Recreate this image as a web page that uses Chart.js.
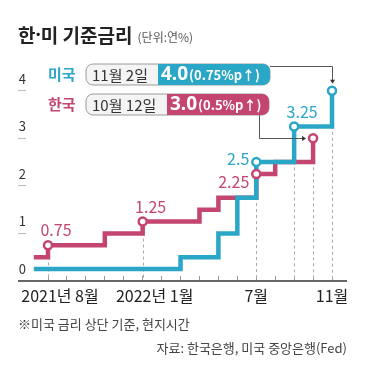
<!DOCTYPE html>
<html>
<head>
<meta charset="utf-8">
<script src="https://cdn.jsdelivr.net/npm/chart.js@4.4.1/dist/chart.umd.min.js"></script>
<style>
  html, body { margin: 0; padding: 0; background: #fff; }
  canvas { display: block; }
</style>
</head>
<body>
<canvas id="rates" width="375" height="381"></canvas>
<script>
// months counted from 2021-08 (0) to 2022-11 (15)
const monthTicks = [0, 1, 2, 3, 4, 5, 6, 7, 8, 9, 10, 11, 12, 13, 14, 15];
const labelMonths = [0, 5, 11, 15];
const labelTexts = ['\u2002\u2002\u20022021년 8월', '\u2002\u2002\u20022022년 1월', '7월', '11월'];
const yTicks = [0, 1, 2, 3, 4];

const korMonths = [-0.75, 0, 3, 5, 8, 9, 11, 12, 14];
const korRates = [0.5, 0.75, 1.0, 1.25, 1.5, 1.75, 2.25, 2.5, 3.0];
const usMonths = [-0.75, 7, 9, 10, 11, 13, 15];
const usRates = [0.25, 0.5, 1.0, 1.75, 2.5, 3.25, 4.0];

// which steps get a circle / a number
const korMarked = [1, 3, 6, 8];
const korLabeled = [1, 3, 6];
const usMarked = [4, 5, 6];
const usLabeled = [4, 5];

const BLUE = '#2aa6c6';
const RED = '#c4456f';
const FONT = "'Noto Sans CJK KR', 'Noto Sans', sans-serif";
const LATIN = "'Noto Sans', 'Noto Sans CJK KR', sans-serif";

const toPoints = (xs, ys) => xs.map((x, i) => ({ x: x, y: ys[i] }));
const korLine = toPoints(korMonths, korRates);
const usLine = toPoints(usMonths, usRates);
const korMarks = korMarked.map(i => korLine[i]);
const usMarks = usMarked.map(i => usLine[i]);

function roundBox(ctx, x, y, w, h, r, fill, stroke) {
  ctx.beginPath();
  ctx.roundRect(x, y, w, h, r);
  if (fill) { ctx.fillStyle = fill; ctx.fill(); }
  if (stroke) { ctx.strokeStyle = stroke; ctx.lineWidth = 1; ctx.stroke(); }
}

function callout(ctx, o) {
  ctx.textBaseline = 'middle';
  ctx.textAlign = 'left';
  ctx.font = 'bold 15px ' + FONT;
  ctx.fillStyle = o.color;
  ctx.fillText(o.name, 48, o.y + 10.5);
  roundBox(ctx, 86, o.y, o.w, 21, 7, '#f4f4f4', '#9a9a9a');
  roundBox(ctx, o.split, o.y, 86 + o.w - o.split, 21, [0, 7, 7, 0], o.color, null);
  ctx.font = '15px ' + FONT;
  ctx.fillStyle = '#333';
  ctx.fillText(o.date, 92, o.y + 11);
  ctx.fillStyle = '#fff';
  ctx.font = 'bold 19px ' + LATIN;
  let x = o.split + 3;
  ctx.fillText(o.rate, x, o.y + 11);
  x += ctx.measureText(o.rate).width + 1;
  ctx.font = 'bold 13px ' + FONT;
  ctx.fillText(o.change, x, o.y + 11.5);
}

function arrowHead(ctx, x, y, dir) {
  ctx.beginPath();
  if (dir === 'down') {
    ctx.moveTo(x - 2.5, y - 4); ctx.lineTo(x + 2.5, y - 4); ctx.lineTo(x, y);
  } else {
    ctx.moveTo(x - 4, y - 2.5); ctx.lineTo(x - 4, y + 2.5); ctx.lineTo(x, y);
  }
  ctx.closePath();
  ctx.fillStyle = '#333';
  ctx.fill();
}

const noPad = axis => {
  axis.paddingLeft = 0;
  axis.paddingRight = 0;
  axis.paddingTop = 0;
  axis.paddingBottom = 0;
};

const decor = {
  id: 'decor',
  beforeDatasetsDraw(chart) {
    const ctx = chart.ctx;
    const area = chart.chartArea;
    ctx.save();
    // axis line
    ctx.strokeStyle = '#666';
    ctx.lineWidth = 2;
    ctx.beginPath();
    ctx.moveTo(18, area.bottom);
    ctx.lineTo(area.right, area.bottom);
    ctx.stroke();
    // dashed guides under the marked steps
    ctx.strokeStyle = '#aaa';
    ctx.lineWidth = 1;
    ctx.setLineDash([3, 3]);
    [0, 1].forEach(d => {
      chart.getDatasetMeta(d).data.forEach(p => {
        ctx.beginPath();
        ctx.moveTo(Math.round(p.x) + 0.5, p.y + 5);
        ctx.lineTo(Math.round(p.x) + 0.5, area.bottom - 1);
        ctx.stroke();
      });
    });
    ctx.restore();
  },
  afterDatasetsDraw(chart) {
    const ctx = chart.ctx;
    ctx.save();
    // value labels
    ctx.font = '16px ' + FONT;
    ctx.textBaseline = 'middle';
    const usPts = chart.getDatasetMeta(0).data;
    const korPts = chart.getDatasetMeta(1).data;
    const place = (p, v, color, where) => {
      ctx.fillStyle = color;
      if (where === 'above') {
        ctx.textAlign = 'center';
        ctx.fillText(String(v), p.x + 8, p.y - 15);
      } else if (where === 'leftLow') {
        ctx.textAlign = 'right';
        ctx.fillText(String(v), p.x - 7, p.y + 8);
      } else {
        ctx.textAlign = 'right';
        ctx.fillText(String(v), p.x - 7, p.y - 3);
      }
    };
    const korPlace = ['above', 'above', 'leftLow'];
    const usPlace = ['left', 'above'];
    korLabeled.forEach((i, k) => place(korPts[korMarked.indexOf(i)], korRates[i], RED, korPlace[k]));
    usLabeled.forEach((i, k) => place(usPts[usMarked.indexOf(i)], usRates[i], BLUE, usPlace[k]));

    // connectors to the latest steps
    const usLast = usPts[usPts.length - 1];
    const korLast = korPts[korPts.length - 1];
    ctx.strokeStyle = '#555';
    ctx.lineWidth = 1;
    ctx.beginPath();
    ctx.moveTo(270, 66.5);
    ctx.lineTo(Math.round(usLast.x) + 0.5, 66.5);
    ctx.lineTo(Math.round(usLast.x) + 0.5, usLast.y - 9);
    ctx.moveTo(259.5, 115);
    ctx.lineTo(259.5, Math.round(korLast.y) + 0.5);
    ctx.lineTo(korLast.x - 10, Math.round(korLast.y) + 0.5);
    ctx.stroke();
    arrowHead(ctx, Math.round(usLast.x) + 0.5, usLast.y - 7, 'down');
    arrowHead(ctx, korLast.x - 7, Math.round(korLast.y) + 0.5, 'right');

    callout(ctx, { name: '미국', y: 64, w: 184, split: 158, color: BLUE, date: '11월 2일', rate: '4.0', change: '(0.75%p↑)' });
    callout(ctx, { name: '한국', y: 94, w: 183, split: 167, color: RED, date: '10월 12일', rate: '3.0', change: '(0.5%p↑)' });

    // title and notes
    ctx.textAlign = 'left';
    ctx.textBaseline = 'middle';
    ctx.fillStyle = '#222';
    let tx = 18;
    ctx.font = 'bold 19px ' + FONT;
    ctx.fillText('한', tx, 36);
    tx += ctx.measureText('한').width;
    ctx.font = 'bold 19px ' + LATIN;
    ctx.fillText('·', tx, 36);
    tx += ctx.measureText('·').width;
    ctx.font = 'bold 19px ' + FONT;
    ctx.fillText('미 기준금리', tx, 36);
    tx += ctx.measureText('미 기준금리').width;
    ctx.font = '12px ' + FONT;
    ctx.fillStyle = '#555';
    ctx.fillText('(단위:연%)', tx + 5, 37);
    ctx.font = '13px ' + FONT;
    ctx.fillStyle = '#444';
    ctx.fillText('※미국 금리 상단 기준, 현지시간', 18, 324);
    ctx.textAlign = 'right';
    ctx.fillText('자료: 한국은행, 미국 중앙은행(Fed)', 347, 348);
    ctx.restore();
  }
};

const markStyle = color => ({
  showLine: false,
  pointRadius: 4,
  pointHoverRadius: 4,
  pointBorderWidth: 2.5,
  pointBackgroundColor: '#fff',
  pointBorderColor: color
});

new Chart(document.getElementById('rates').getContext('2d'), {
  type: 'line',
  data: {
    datasets: [
      Object.assign({ label: '미국 표시', data: usMarks, order: 0 }, markStyle(BLUE)),
      Object.assign({ label: '한국 표시', data: korMarks, order: 1 }, markStyle(RED)),
      { label: '미국', data: usLine, stepped: 'before', borderColor: BLUE, borderWidth: 4.5, pointRadius: 0, order: 2 },
      { label: '한국', data: korLine, stepped: 'before', borderColor: RED, borderWidth: 4.5, pointRadius: 0, order: 3 }
    ]
  },
  options: {
    responsive: false,
    animation: false,
    layout: { padding: { top: 67, left: 18, right: 28, bottom: 0 } },
    plugins: { legend: { display: false }, tooltip: { enabled: false } },
    scales: {
      x: {
        type: 'linear',
        min: -1.162,
        max: 15.792,
        afterBuildTicks: axis => { axis.ticks = monthTicks.map(v => ({ value: v })); },
        afterFit: axis => { axis.height = 100; noPad(axis); },
        grid: { drawOnChartArea: false, drawTicks: true, tickLength: -5, tickColor: '#999', lineWidth: 1 },
        border: { display: false },
        ticks: {
          autoSkip: false,
          maxRotation: 0,
          padding: 10,
          color: '#222',
          font: { family: FONT, size: 16 },
          callback: v => {
            const i = labelMonths.indexOf(v);
            return i >= 0 ? labelTexts[i] : '';
          }
        }
      },
      y: {
        min: 0,
        max: 4.5,
        afterBuildTicks: axis => { axis.ticks = yTicks.map(v => ({ value: v })); },
        afterFit: axis => { axis.width = 8; noPad(axis); },
        grid: { drawOnChartArea: false, tickLength: 8, tickColor: '#bbb' },
        border: { display: false },
        ticks: { padding: -8, labelOffset: -12, color: '#333', font: { family: FONT, size: 13 } }
      }
    }
  },
  plugins: [decor]
});
</script>
</body>
</html>
